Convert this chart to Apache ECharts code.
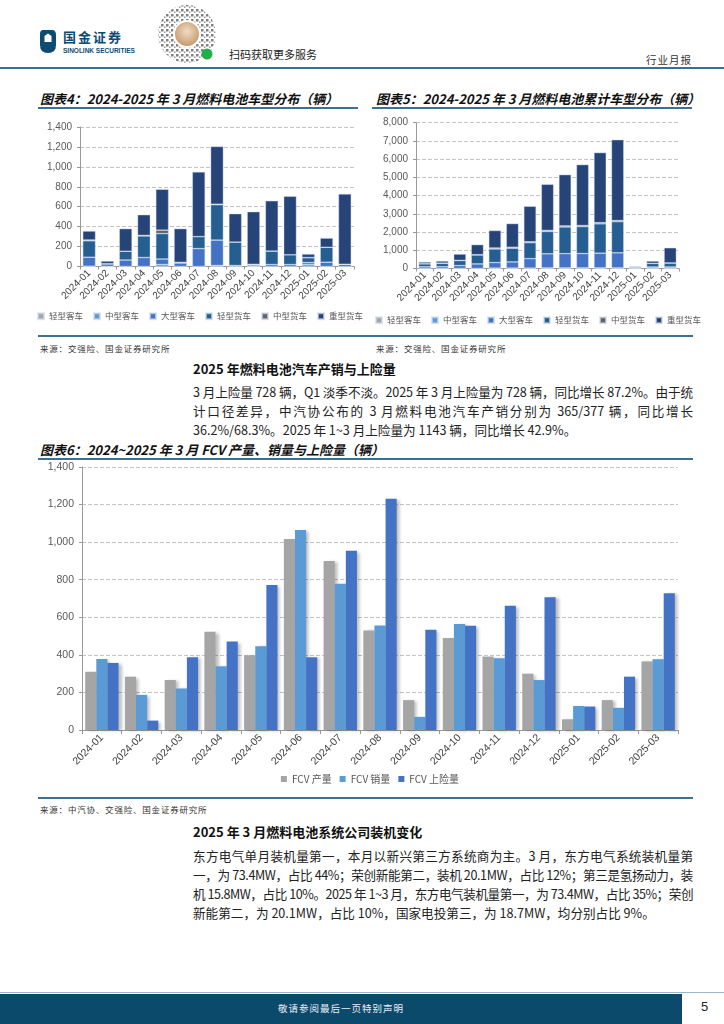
<!DOCTYPE html>
<html><head><meta charset="utf-8">
<script src="https://cdn.jsdelivr.net/npm/echarts@6.0.0/dist/echarts.min.js"></script>
<style>
html,body{margin:0;padding:0;background:#fff;}
#page{position:relative;width:724px;height:1024px;overflow:hidden;background:#fff;font-family:"Noto Sans CJK SC",sans-serif;color:#1a1a1a;}
.abs{position:absolute;white-space:nowrap;}
.ttl{font-weight:bold;font-style:italic;font-size:13px;color:#111;}
.uline{position:absolute;height:1.5px;background:#3d6f93;}
.src{font-size:8.5px;color:#333;letter-spacing:0.8px;}
.h2{font-weight:bold;font-size:13px;color:#111;}
.para{position:absolute;left:193px;width:500px;font-size:12.6px;line-height:19px;color:#222;font-family:"Liberation Sans Narrow","Noto Sans CJK SC",sans-serif;}
.para div{text-align:justify;text-align-last:justify;white-space:nowrap;height:19px;}
.para div.last{text-align-last:left;}
</style></head>
<body><div id="page">
<!-- header -->
<svg class="abs" style="left:40px;top:30px" width="16" height="23" viewBox="0 0 16 23">
  <path d="M3 0 H12 Q16 0 16 5 V15 Q16 23 8 23 Q0 23 0 15 V4 Q0 0 3 0 Z" fill="#0d4b73"/>
  <path d="M4.5 6 L8 3.5 L11.5 6 V12 H4.5 Z" fill="#fff"/>
</svg>
<div class="abs" style="left:63px;top:30px;font-size:13px;line-height:14px;font-weight:bold;color:#0d4b73;letter-spacing:2px">国金证券</div>
<div class="abs" style="left:63px;top:47px;font-size:6.5px;line-height:7px;font-weight:bold;color:#0d4b73;font-family:'Liberation Sans',sans-serif">SINOLINK SECURITIES</div>
<svg class="abs" style="left:156px;top:4px" width="64" height="62" viewBox="0 0 64 62">
  <defs><pattern id="qr" width="5" height="5" patternUnits="userSpaceOnUse"><rect x="0" y="0" width="2.5" height="2.5" fill="#555"/><rect x="3" y="2.5" width="1.5" height="1.5" fill="#777"/></pattern>
  <radialGradient id="gd" cx="50%" cy="40%" r="60%"><stop offset="0" stop-color="#f1dcc4"/><stop offset="1" stop-color="#c79a6e"/></radialGradient></defs>
  <circle cx="31" cy="30" r="29" fill="url(#qr)" opacity="0.75"/>
  <circle cx="31" cy="30" r="14" fill="#fff"/>
  <circle cx="31" cy="30" r="12" fill="url(#gd)"/>
  <circle cx="51" cy="50" r="5.5" fill="#20b04b"/>
</svg>
<div class="abs" style="left:229px;top:46px;font-size:11px;color:#222">扫码获取更多服务</div>
<div class="abs" style="left:646px;top:52px;font-size:10.5px;color:#333;letter-spacing:1px">行业月报</div>
<div class="abs" style="left:0;top:67px;width:724px;height:2px;background:#3a6f95"></div>

<!-- chart titles -->
<div class="abs ttl" style="left:40px;top:89px">图表4：2024-2025 年 3 月燃料电池车型分布（辆）</div>
<div class="uline" style="left:38px;top:107px;width:320px"></div>
<div class="abs ttl" style="left:376px;top:89px">图表5：2024-2025 年 3 月燃料电池累计车型分布（辆）</div>
<div class="uline" style="left:372px;top:107px;width:320px"></div>

<div id="c4" class="abs" style="left:30px;top:110px;width:340px;height:222px"></div>
<div id="c5" class="abs" style="left:368px;top:110px;width:340px;height:222px"></div>

<div class="abs" style="left:38px;top:335px;width:655px;height:1.5px;background:#3d6f93"></div>
<div class="abs src" style="left:40px;top:342px">来源：交强险、国金证券研究所</div>
<div class="abs src" style="left:376px;top:342px">来源：交强险、国金证券研究所</div>

<div class="abs h2" style="left:193px;top:359px">2025 年燃料电池汽车产销与上险量</div>
<div class="para" style="top:382px">
<div>3 月上险量 728 辆，Q1 淡季不淡。2025 年 3 月上险量为 728 辆，同比增长 87.2%。由于统</div>
<div>计口径差异，中汽协公布的 3 月燃料电池汽车产销分别为 365/377 辆，同比增长</div>
<div class="last">36.2%/68.3%。2025 年 1~3 月上险量为 1143 辆，同比增长 42.9%。</div>
</div>

<div class="abs ttl" style="left:40px;top:440px">图表6：2024~2025 年 3 月 FCV 产量、销量与上险量（辆）</div>
<div class="uline" style="left:38px;top:458px;width:655px"></div>

<div id="c6" class="abs" style="left:30px;top:460px;width:680px;height:335px"></div>

<div class="abs" style="left:38px;top:797px;width:655px;height:1.5px;background:#3d6f93"></div>
<div class="abs src" style="left:40px;top:803px">来源：中汽协、交强险、国金证券研究所</div>

<div class="abs h2" style="left:193px;top:822px">2025 年 3 月燃料电池系统公司装机变化</div>
<div class="para" style="top:846px">
<div>东方电气单月装机量第一，本月以新兴第三方系统商为主。3 月，东方电气系统装机量第</div>
<div>一，为 73.4MW，占比 44%；荣创新能第二，装机 20.1MW，占比 12%；第三是氢扬动力，装</div>
<div>机 15.8MW，占比 10%。2025 年 1~3 月，东方电气装机量第一，为 73.4MW，占比 35%；荣创</div>
<div class="last">新能第二，为 20.1MW，占比 10%，国家电投第三，为 18.7MW，均分别占比 9%。</div>
</div>

<!-- footer -->
<div class="abs" style="left:0;top:992px;width:724px;height:1px;background:#9fb6c8"></div>
<div class="abs" style="left:0;top:994px;width:682px;height:30px;background:#0c4a6c"></div>
<div class="abs" style="left:0;top:1001px;width:682px;text-align:center;font-size:9.5px;color:#e8eef3;letter-spacing:1px">敬请参阅最后一页特别声明</div>
<div class="abs" style="left:701px;top:999px;font-size:13px;color:#222;font-family:'Liberation Sans',sans-serif">5</div>
</div>

<script>
const months = ['2024-01','2024-02','2024-03','2024-04','2024-05','2024-06','2024-07','2024-08','2024-09','2024-10','2024-11','2024-12','2025-01','2025-02','2025-03'];
const typeNames = ['轻型客车','中型客车','大型客车','轻型货车','中型货车','重型货车'];
// 图表4: monthly distribution
const lightBus   = [0,0,0,0,0,0,0,0,0,0,0,0,0,0,0];
const midBus     = [3,0,0,0,20,0,0,10,0,0,0,0,20,0,0];
const largeBus   = [90,3,65,90,55,35,180,255,10,5,20,20,20,43,0];
const lightTruck = [165,22,88,217,255,7,120,355,235,12,135,98,48,150,18];
const midTruck   = [8,3,0,5,35,0,0,5,0,5,0,0,2,0,5];
const heavyTruck = [90,27,227,208,410,338,650,580,285,528,505,587,35,92,705];
// 图表5: cumulative distribution
const cumLightBus   = [0,0,0,0,0,0,0,0,0,0,0,0,0,0,0];
const cumMidBus     = [3,3,3,3,23,23,23,33,33,33,33,33,20,20,20];
const cumLargeBus   = [90,93,158,248,303,338,518,773,783,788,808,828,20,63,63];
const cumLightTruck = [165,187,275,492,747,754,874,1229,1464,1476,1611,1709,48,198,216];
const cumMidTruck   = [8,11,11,16,51,51,51,56,56,61,61,61,2,2,7];
const cumHeavyTruck = [90,117,344,552,962,1300,1950,2530,2815,3343,3848,4435,35,127,832];
// 图表6: FCV
const fcvNames = ['FCV产量','FCV销量','FCV上险量'];
const fcvProd    = [310,284,266,523,398,1017,899,530,159,490,391,300,57,159,365];
const fcvSales   = [378,187,221,339,446,1065,778,556,70,564,382,266,128,118,377];
const fcvInsured = [357,50,387,471,772,387,954,1231,533,555,662,706,125,284,728];
const y4Ticks = {max:1400, interval:200};
const y5Ticks = {max:8000, interval:1000};
const y6Ticks = {max:1400, interval:200};

const typeColors = ['#a5a5a5','#5b9bd5','#4472c4','#255e91','#636363','#264478'];
const fmt = v => Number(v).toLocaleString('en-US');

// shrink paragraph lines that would overflow
document.querySelectorAll('.para div').forEach(el=>{
  let ls = 0;
  while (el.scrollWidth > 500 && ls > -1.5) { ls -= 0.1; el.style.letterSpacing = ls + 'px'; }
});

function stackedOption(series, yt, grid, legendTop){
  return {
    animation:false,
    grid:grid,
    legend:{top:legendTop, left:'center', padding:0, itemWidth:6, itemHeight:6, itemGap:10, icon:'rect',
      textStyle:{fontSize:8.5, color:'#555', fontFamily:'Noto Sans CJK SC'}},
    xAxis:{type:'category', data:months,
      axisLine:{lineStyle:{color:'#999'}}, axisTick:{show:true,length:3,lineStyle:{color:'#999'}},
      axisLabel:{rotate:45, interval:0, fontSize:10, color:'#404040', margin:5, fontFamily:'Liberation Sans'}},
    yAxis:{type:'value', min:0, max:yt.max, interval:yt.interval,
      axisLine:{show:true,lineStyle:{color:'#999'}}, axisTick:{show:true,length:3,lineStyle:{color:'#999'}},
      splitLine:{lineStyle:{type:'dashed', color:'#c4c4c4'}},
      axisLabel:{fontSize:10, color:'#595959', formatter:fmt, margin:8, fontFamily:'Liberation Sans'}},
    series: series.map((d,i)=>({name:typeNames[i], type:'bar', stack:'t', data:d, barCategoryGap:'30%',
      itemStyle:{color:typeColors[i], borderColor:'rgba(210,220,235,0.7)', borderWidth:0.6}}))
  };
}

const c4 = echarts.init(document.getElementById('c4'), null, {renderer:'canvas'});
c4.setOption(stackedOption([lightBus,midBus,largeBus,lightTruck,midTruck,heavyTruck], y4Ticks,
  {left:50, right:16, top:17, bottom:65.5}, 202));
const c5 = echarts.init(document.getElementById('c5'), null, {renderer:'canvas'});
c5.setOption(stackedOption([cumLightBus,cumMidBus,cumLargeBus,cumLightTruck,cumMidTruck,cumHeavyTruck], y5Ticks,
  {left:48, right:29, top:12.7, bottom:63.5}, 206));

const c6 = echarts.init(document.getElementById('c6'), null, {renderer:'canvas'});
const fcvColors = ['#a5a5a5','#5b9bd5','#4472c4'];
c6.setOption({
  animation:false,
  grid:{left:52, right:32, top:7, bottom:65},
  legend:{top:314, left:'center', padding:0, itemWidth:6, itemHeight:6, itemGap:8, icon:'rect',
    textStyle:{fontSize:10, color:'#555', fontFamily:'Liberation Sans Narrow, Noto Sans CJK SC'},
    formatter: n => n.replace('FCV','FCV ')},
  xAxis:{type:'category', data:months,
    axisLine:{lineStyle:{color:'#999'}}, axisTick:{show:true,length:4,lineStyle:{color:'#999'}},
    axisLabel:{rotate:45, interval:0, fontSize:10.5, color:'#404040', margin:6, fontFamily:'Liberation Sans Narrow, Liberation Sans'}},
  yAxis:{type:'value', min:0, max:y6Ticks.max, interval:y6Ticks.interval,
    axisLine:{show:true,lineStyle:{color:'#999'}}, axisTick:{show:true,length:3,lineStyle:{color:'#999'}},
    splitLine:{lineStyle:{type:'dashed', color:'#c4c4c4'}},
    axisLabel:{fontSize:10.5, color:'#595959', formatter:fmt, margin:8, fontFamily:'Liberation Sans Narrow, Liberation Sans'}},
  series:[fcvProd,fcvSales,fcvInsured].map((d,i)=>({name:fcvNames[i], type:'bar', data:d, barGap:'0%', barCategoryGap:'16%',
    itemStyle:{color:fcvColors[i], shadowColor:'rgba(0,0,0,0.25)', shadowBlur:3, shadowOffsetX:3, shadowOffsetY:1}}))
});
</script>
</body></html>
